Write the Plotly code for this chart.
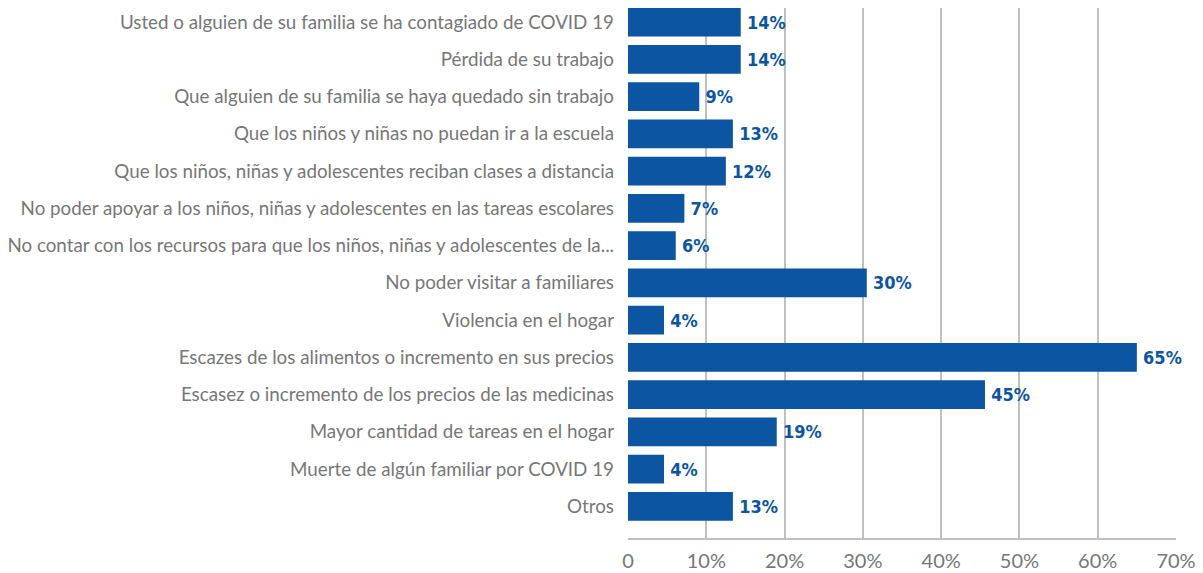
import plotly.graph_objects as go

# datos (orden de arriba hacia abajo)
categorias = [
    "Usted o alguien de su familia se ha contagiado de COVID 19",
    "Pérdida de su trabajo",
    "Que alguien de su familia se haya quedado sin trabajo",
    "Que los niños y niñas no puedan ir a la escuela",
    "Que los niños, niñas y adolescentes reciban clases a distancia",
    "No poder apoyar a los niños, niñas y adolescentes en las tareas escolares",
    "No contar con los recursos para que los niños, niñas y adolescentes de la...",
    "No poder visitar a familiares",
    "Violencia en el hogar",
    "Escazes de los alimentos o incremento en sus precios",
    "Escasez o incremento de los precios de las medicinas",
    "Mayor cantidad de tareas en el hogar",
    "Muerte de algún familiar por COVID 19",
    "Otros",
]
valores = [14.4, 14.4, 9.1, 13.4, 12.5, 7.2, 6.1, 30.5, 4.6, 65.0, 45.6, 19.0, 4.6, 13.4]
etiquetas = ["14%", "14%", "9%", "13%", "12%", "7%", "6%", "30%", "4%", "65%", "45%", "19%", "4%", "13%"]
ticks_x = [0, 10, 20, 30, 40, 50, 60, 70]
ticks_x_txt = ["0", "10%", "20%", "30%", "40%", "50%", "60%", "70%"]

AZUL = "#0b55a3"
GRIS = "#777777"

fig = go.Figure(go.Bar(
    y=categorias, x=valores, orientation="h",
    marker=dict(color=AZUL, line=dict(width=0)),
    text=etiquetas, texttemplate="\u2009%{text}",
    textposition="outside", cliponaxis=False,
    textfont=dict(family="DejaVu Sans Condensed", size=18, color=AZUL, weight="bold"),
    hoverinfo="skip",
))

# la página añade 8px de margen al body, se compensa aquí
fig.update_layout(
    width=1195, height=565,
    plot_bgcolor="#FFFFFF", paper_bgcolor="#FFFFFF",
    margin=dict(l=620, r=27, t=0, b=35),
    bargap=0.23,
    showlegend=False,
    font=dict(family="Lato, sans-serif", color=GRIS),
)
fig.update_xaxes(
    range=[0, 70], tickvals=ticks_x, ticktext=ticks_x_txt,
    showgrid=True, gridcolor="#c0c0c0", gridwidth=2,
    showline=True, linecolor="#c0c0c0", linewidth=2,
    zeroline=False, tickfont=dict(size=20, color=GRIS), ticklabelstandoff=4,
    automargin=False, fixedrange=True,
)
fig.update_yaxes(
    range=[13.85, -0.38], showgrid=False, showline=False,
    tickfont=dict(size=18.8, color=GRIS), ticklabelstandoff=13,
    automargin=False, fixedrange=True,
)

fig.write_html("out.html")
